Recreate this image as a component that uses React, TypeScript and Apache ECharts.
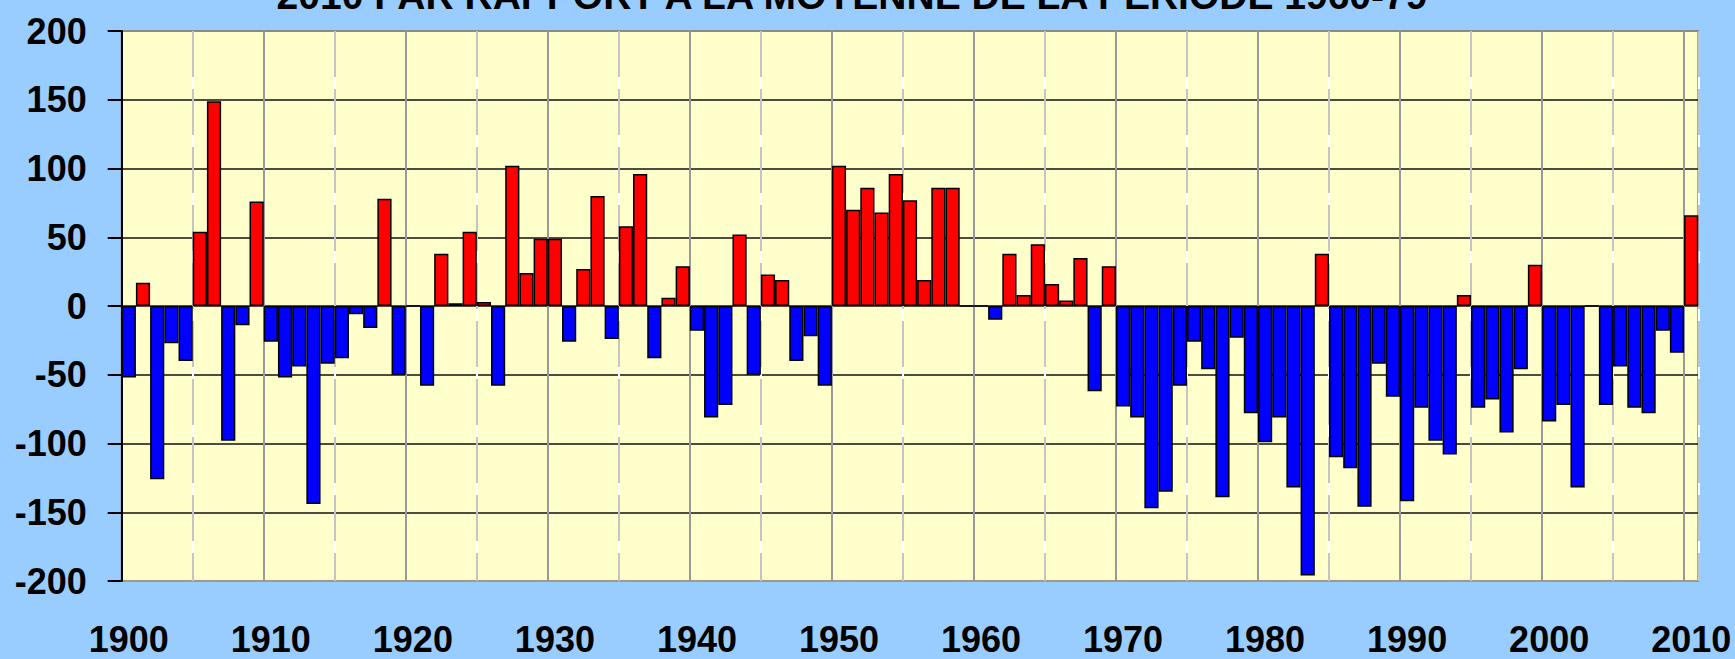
import React, { useEffect, useRef } from "react";
import * as echarts from "echarts";

const TITLE = "2010 PAR RAPPORT A LA MOYENNE DE LA PERIODE 1960-79";

const years: string[] = Array.from({ length: 111 }, (_, i) => String(1900 + i));

// Anomalies 1900-1909 ... 2000-2010
const v1900s = [-52, 17, -126, -27, -40, 54, 149, -98, -14, 76];
const v1910s = [-26, -52, -44, -144, -42, -38, -6, -16, 78, -50];
const v1920s = [0, -58, 38, 2, 54, 3, -58, 102, 24, 49];
const v1930s = [49, -26, 27, 80, -24, 58, 96, -38, 6, 29];
const v1940s = [-18, -81, -72, 52, -50, 23, 19, -40, -22, -58];
const v1950s = [102, 70, 86, 68, 96, 77, 19, 86, 86, 0];
const v1960s = [0, -10, 38, 8, 45, 16, 4, 35, -62, 29];
const v1970s = [-73, -81, -147, -135, -58, -26, -46, -139, -23, -78];
const v1980s = [-99, -81, -132, -196, 38, -110, -118, -146, -42, -66];
const v1990s = [-142, -74, -98, -108, 8, -74, -68, -92, -46, 30];
const v2000s = [-84, -72, -132, 0, -72, -44, -74, -78, -18, -34, 66];

const values: number[] = [
  ...v1900s, ...v1910s, ...v1920s, ...v1930s, ...v1940s, ...v1950s,
  ...v1960s, ...v1970s, ...v1980s, ...v1990s, ...v2000s,
];

const FONT = "'Liberation Sans', Arial, Helvetica, sans-serif";

export default function App() {
  const ref = useRef<HTMLDivElement>(null);
  useEffect(() => {
    if (!ref.current) return;
    const chart = echarts.init(ref.current, undefined, { renderer: "svg" });
    const hiddenAxis = {
      type: "category",
      data: years,
      boundaryGap: true,
      axisLine: { show: false },
      axisTick: { show: false },
      axisLabel: { show: false },
    };
    chart.setOption({
      animation: false,
      backgroundColor: "#99ccff",
      grid: {
        left: 121.7,
        right: 36.7,
        top: 31,
        bottom: 78,
        show: true,
        backgroundColor: "#ffffcc",
        borderColor: "#8a8a8a",
        borderWidth: 2,
      },
      graphic: [
        {
          type: "text",
          x: 852,
          y: -5,
          style: {
            text: TITLE,
            fontFamily: FONT,
            fontWeight: "bold",
            fontSize: 39,
            fill: "#000",
            align: "center",
            verticalAlign: "middle",
          },
        },
      ],
      xAxis: [
        {
          type: "category",
          data: years,
          boundaryGap: true,
          axisLine: { show: false },
          axisTick: { show: false },
          axisLabel: {
            interval: 9,
            margin: 40,
            color: "#000",
            fontFamily: FONT,
            fontWeight: "bold",
            fontSize: 36,
          },
          splitLine: {
            show: true,
            interval: (i: number) => i > 0 && i % 10 === 0,
            lineStyle: { color: "#999999", width: 2 },
          },
        },
        {
          ...hiddenAxis,
          splitLine: {
            show: true,
            interval: (i: number) => i % 10 === 5,
            lineStyle: { color: "#ffffff", width: 2 },
          },
        },
        {
          ...hiddenAxis,
          splitLine: {
            show: true,
            interval: (i: number) => i % 10 === 5,
            lineStyle: { color: "#c4c4c4", width: 2, type: [46, 12] },
          },
        },
      ],
      yAxis: {
        type: "value",
        min: -200,
        max: 200,
        interval: 50,
        axisLine: { show: true, lineStyle: { color: "#000", width: 2 } },
        axisTick: { show: true, length: 14, lineStyle: { color: "#000", width: 2 } },
        axisLabel: {
          margin: 35,
          color: "#000",
          fontFamily: FONT,
          fontWeight: "bold",
          fontSize: 36,
        },
        splitLine: {
          show: true,
          lineStyle: {
            color: ["#a8a080", "#111", "#111", "#111", "#111", "#111", "#111", "#111", "#8a8a8a"],
            width: 1.6,
          },
        },
      },
      series: [
        {
          type: "bar",
          xAxisIndex: 0,
          data: values,
          barWidth: "100%",
          itemStyle: {
            color: (p: any) => (p.value >= 0 ? "#ff0000" : "#0000ff"),
            borderColor: "#000",
            borderWidth: 1.5,
          },
        },
      ],
    });
    return () => chart.dispose();
  }, []);
  return (
    <div
      ref={ref}
      style={{ position: "fixed", left: 0, top: 0, width: 1735, height: 659 }}
    />
  );
}
